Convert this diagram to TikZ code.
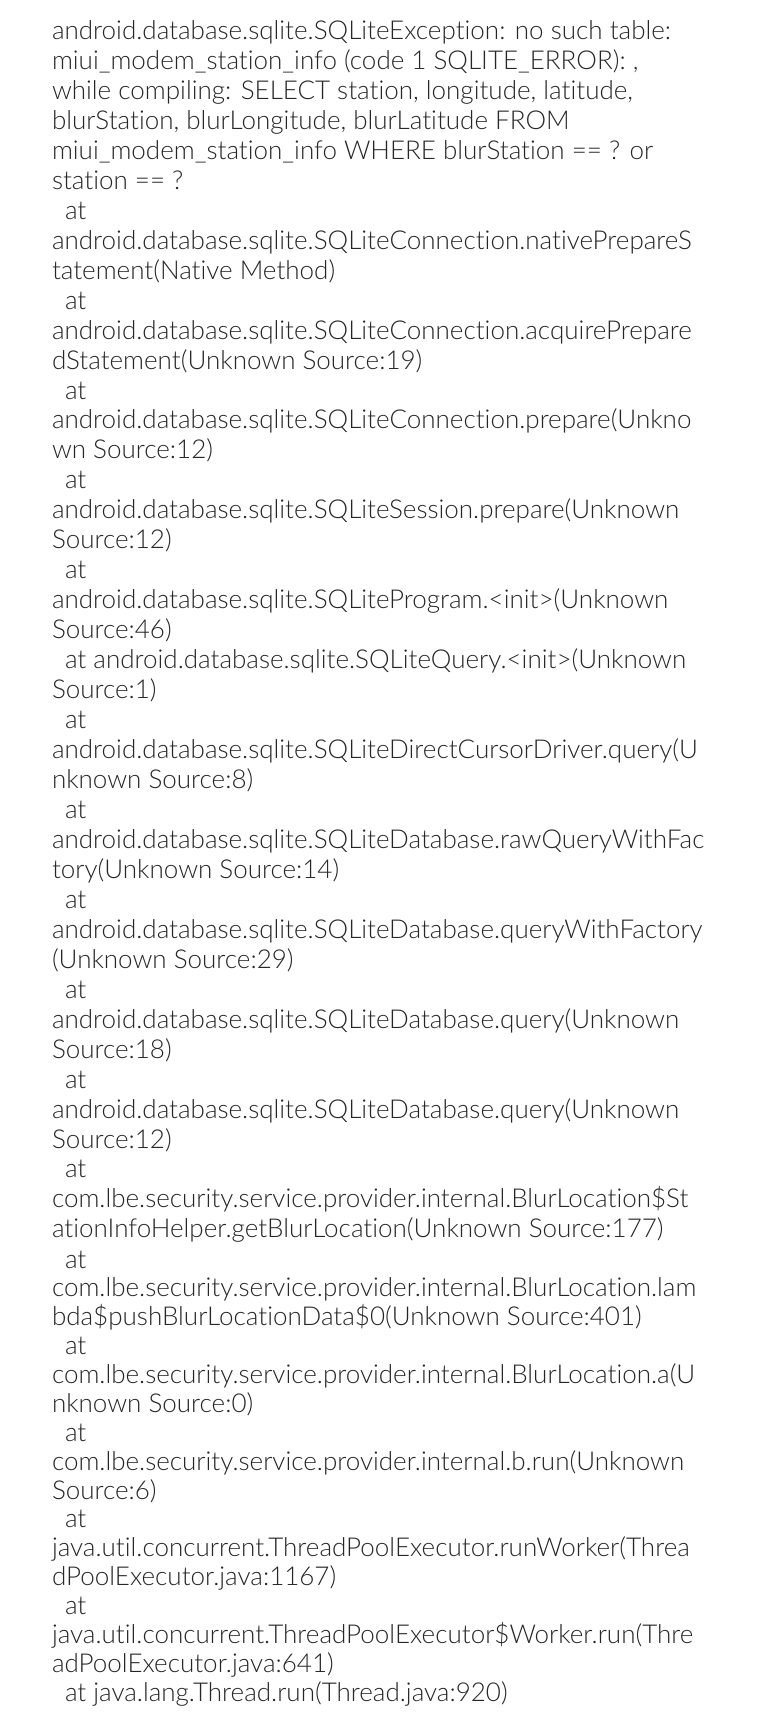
\documentclass[tikz,border=0pt]{standalone}
\usepackage{fontspec}
\setmainfont{Lato}[UprightFont=* Light, Ligatures=NoCommon]
\definecolor{txt}{HTML}{262626}
\tikzset{
  ln/.style={anchor=base west, inner sep=0pt, outer sep=0pt, text=txt, font=\fontsize{26}{30}\selectfont},
}
\begin{document}
\begin{tikzpicture}[x=1pt,y=-1pt]
\fill[white] (0,0) rectangle (765,1730);
\useasboundingbox (0,0) rectangle (765,1730);
\node[ln] (l1) at (52,39.5) {android.database.sqlite.SQLiteException: no such table:};
\node[ln] (l2) at (52,69.46) {miui\_modem\_station\_info (code 1 SQLITE\_ERROR): ,};
\node[ln] (l3) at (52,99.42) {while compiling: SELECT station, longitude, latitude,};
\node[ln] (l4) at (52,129.38) {blurStation, blurLongitude, blurLatitude FROM};
\node[ln] (l5) at (52,159.34) {miui\_modem\_station\_info WHERE blurStation == ? or};
\node[ln] (l6) at (52,189.3) {station == ?};
\node[ln] (l7) at (65,219.26) {at};
\node[ln] (l8) at (52,249.22) {android.database.sqlite.SQLiteConnection.nativePrepareS};
\node[ln] (l9) at (52,279.18) {tatement(Native Method)};
\node[ln] (l10) at (65,309.14) {at};
\node[ln] (l11) at (52,339.1) {android.database.sqlite.SQLiteConnection.acquirePrepare};
\node[ln] (l12) at (52,369.06) {dStatement(Unknown Source:19)};
\node[ln] (l13) at (65,399.02) {at};
\node[ln] (l14) at (52,428.98) {android.database.sqlite.SQLiteConnection.prepare(Unkno};
\node[ln] (l15) at (52,458.94) {wn Source:12)};
\node[ln] (l16) at (65,488.9) {at};
\node[ln] (l17) at (52,518.86) {android.database.sqlite.SQLiteSession.prepare(Unknown};
\node[ln] (l18) at (52,548.82) {Source:12)};
\node[ln] (l19) at (65,578.78) {at};
\node[ln] (l20) at (52,608.74) {android.database.sqlite.SQLiteProgram.<init>(Unknown};
\node[ln] (l21) at (52,638.7) {Source:46)};
\node[ln] (l22) at (65,668.66) {at android.database.sqlite.SQLiteQuery.<init>(Unknown};
\node[ln] (l23) at (52,698.62) {Source:1)};
\node[ln] (l24) at (65,728.58) {at};
\node[ln] (l25) at (52,758.54) {android.database.sqlite.SQLiteDirectCursorDriver.query(U};
\node[ln] (l26) at (52,788.5) {nknown Source:8)};
\node[ln] (l27) at (65,818.46) {at};
\node[ln] (l28) at (52,848.42) {android.database.sqlite.SQLiteDatabase.rawQueryWithFac};
\node[ln] (l29) at (52,878.38) {tory(Unknown Source:14)};
\node[ln] (l30) at (65,908.34) {at};
\node[ln] (l31) at (52,938.3) {android.database.sqlite.SQLiteDatabase.queryWithFactory};
\node[ln] (l32) at (52,968.26) {(Unknown Source:29)};
\node[ln] (l33) at (65,998.22) {at};
\node[ln] (l34) at (52,1028.18) {android.database.sqlite.SQLiteDatabase.query(Unknown};
\node[ln] (l35) at (52,1058.14) {Source:18)};
\node[ln] (l36) at (65,1088.1) {at};
\node[ln] (l37) at (52,1118.06) {android.database.sqlite.SQLiteDatabase.query(Unknown};
\node[ln] (l38) at (52,1148.02) {Source:12)};
\node[ln] (l39) at (65,1177.98) {at};
\node[ln] (l40) at (52,1207.94) {com.lbe.security.service.provider.internal.BlurLocation\$St};
\node[ln] (l41) at (52,1237.9) {ationInfoHelper.getBlurLocation(Unknown Source:177)};
\node[ln] (l42) at (65,1268) {at};
\node[ln] (l43) at (52,1296.9) {com.lbe.security.service.provider.internal.BlurLocation.lam};
\node[ln] (l44) at (52,1325.7) {bda\$pushBlurLocationData\$0(Unknown Source:401)};
\node[ln] (l45) at (65,1354.6) {at};
\node[ln] (l46) at (52,1383.5) {com.lbe.security.service.provider.internal.BlurLocation.a(U};
\node[ln] (l47) at (52,1412.3) {nknown Source:0)};
\node[ln] (l48) at (65,1441.2) {at};
\node[ln] (l49) at (52,1470.1) {com.lbe.security.service.provider.internal.b.run(Unknown};
\node[ln] (l50) at (52,1499) {Source:6)};
\node[ln] (l51) at (65,1527.8) {at};
\node[ln] (l52) at (52,1556.7) {java.util.concurrent.ThreadPoolExecutor.runWorker(Threa};
\node[ln] (l53) at (52,1585.6) {dPoolExecutor.java:1167)};
\node[ln] (l54) at (65,1614.4) {at};
\node[ln] (l55) at (52,1643.3) {java.util.concurrent.ThreadPoolExecutor\$Worker.run(Thre};
\node[ln] (l56) at (52,1672.2) {adPoolExecutor.java:641)};
\node[ln] (l57) at (65,1701) {at java.lang.Thread.run(Thread.java:920)};
\end{tikzpicture}
\end{document}
